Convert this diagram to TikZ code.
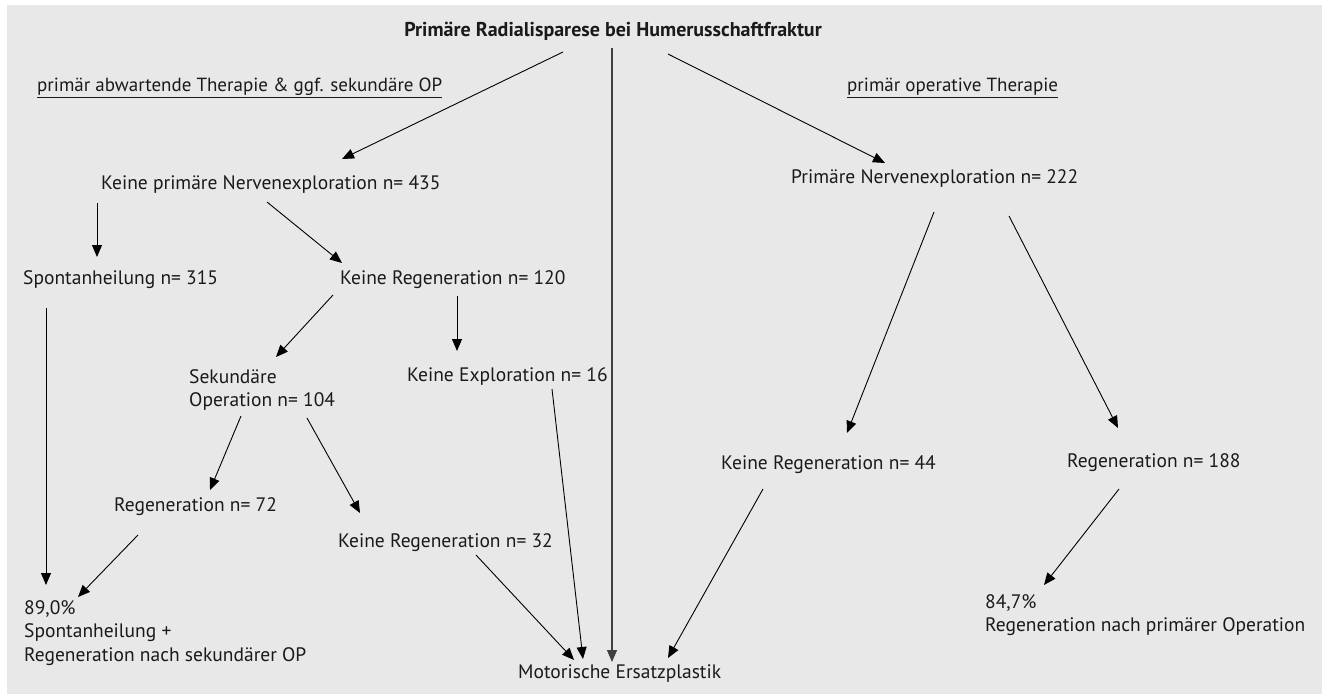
\documentclass[tikz,border=0pt]{standalone}
\usepackage{fontspec}
\setmainfont{PT Sans}
\usetikzlibrary{arrows.meta}
\definecolor{bgc}{HTML}{E8E8E8}
\definecolor{txt}{HTML}{1A1A1A}
\begin{document}
\begin{tikzpicture}[x=1pt,y=-1pt,
  lbl/.style={anchor=west,inner sep=0pt,text=txt,font=\fontsize{19.5}{23.5}\selectfont,align=left},
  arr/.style={draw=black,line width=0.9pt,-{Triangle[length=12pt,width=10pt]}},
  tline/.style={draw=black!75,line width=1.3pt,-{Triangle[length=12pt,width=10pt]}}]
\useasboundingbox (0,0) rectangle (1322,695);
\fill[white] (0,0) rectangle (1322,695);
\fill[bgc] (7,5) rectangle (1322,694);
% nodes
\node[lbl,anchor=center,font=\fontsize{20}{23.5}\selectfont\bfseries] (title) at (613,31) {Primäre Radialisparese bei Humerusschaftfraktur};
\node[lbl,font=\fontsize{19}{23.5}\selectfont] (sub1) at (37,88) {\underline{primär abwartende Therapie \& ggf. sekundäre OP}};
\node[lbl,font=\fontsize{19}{23.5}\selectfont] (sub2) at (847,88) {\underline{primär operative Therapie}};
\node[lbl] (kpn) at (101,185) {Keine primäre Nervenexploration n= 435};
\node[lbl] (sp) at (23,280) {Spontanheilung n= 315};
\node[lbl] (kr120) at (340,280) {Keine Regeneration n= 120};
\node[lbl] (sek) at (189,390) {Sekundäre\\Operation n= 104};
\node[lbl] (ke16) at (407,377) {Keine Exploration n= 16};
\node[lbl] (r72) at (114,507) {Regeneration n= 72};
\node[lbl] (kr32) at (338,543) {Keine Regeneration n= 32};
\node[lbl] (res1) at (24,633) {89,0\%\\Spontanheilung +\\Regeneration nach sekundärer OP};
\node[lbl] (mot) at (518,674) {Motorische Ersatzplastik};
\node[lbl] (pn222) at (791,179) {Primäre Nervenexploration n= 222};
\node[lbl] (kr44) at (721,465) {Keine Regeneration n= 44};
\node[lbl] (r188) at (1067,463) {Regeneration n= 188};
\node[lbl] (res2) at (985,615) {84,7\%\\Regeneration nach primärer Operation};
% connectors
\draw[arr] ([shift={(-50,21)}]title.center) -- ([shift={(241,-26)}]kpn.west);
\draw[tline] ([shift={(-1,17)}]title.center) -- ([shift={(94,-12)}]mot.west);
\draw[arr] ([shift={(55,23)}]title.center) -- ([shift={(94,-16)}]pn222.west);
\draw[arr] ([shift={(-4,18)}]kpn.west) -- ([shift={(74,-23)}]sp.west);
\draw[arr] ([shift={(166,17)}]kpn.west) -- ([shift={(2,-17)}]kr120.west);
\draw[arr] ([shift={(23,28)}]sp.west) -- ([shift={(22,-48)}]res1.west);
\draw[arr] ([shift={(-7,15)}]kr120.west) -- ([shift={(87,-33)}]sek.west);
\draw[arr] ([shift={(117,16)}]kr120.west) -- ([shift={(50,-26)}]ke16.west);
\draw[arr] ([shift={(52,26)}]sek.west) -- ([shift={(96,-17)}]r72.west);
\draw[arr] ([shift={(118,28)}]sek.west) -- ([shift={(22,-30)}]kr32.west);
\draw[arr] ([shift={(24,28)}]r72.west) -- ([shift={(54,-36)}]res1.west);
\draw[arr] ([shift={(145,12)}]ke16.west) -- ([shift={(65,-15)}]mot.west);
\draw[arr] ([shift={(138,12)}]kr32.west) -- ([shift={(56,-14)}]mot.west);
\draw[arr] ([shift={(143,33)}]pn222.west) -- ([shift={(126,-32)}]kr44.west);
\draw[arr] ([shift={(218,37)}]pn222.west) -- ([shift={(51,-35)}]r188.west);
\draw[arr] ([shift={(42,24)}]kr44.west) -- ([shift={(150,-16)}]mot.west);
\draw[arr] ([shift={(52,26)}]r188.west) -- ([shift={(59,-30)}]res2.west);
\end{tikzpicture}
\end{document}
